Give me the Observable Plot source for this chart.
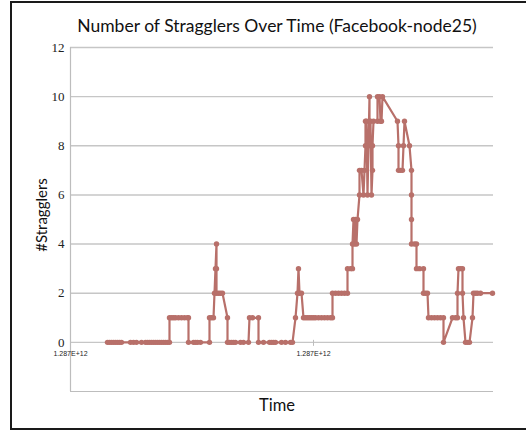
<!DOCTYPE html>
<html><head><meta charset="utf-8">
<script src="https://cdn.jsdelivr.net/npm/d3@7"></script>
<script src="https://cdn.jsdelivr.net/npm/@observablehq/plot@0.6"></script>
<style>
body{margin:0;background:#fff;}
#frame{position:relative;width:526px;height:432px;overflow:hidden;background:#fff;}
#border{position:absolute;left:10px;top:1px;width:600px;height:429px;border:2px solid #1a1a1a;border-right:none;box-sizing:border-box;}
#title{position:absolute;left:277px;top:16px;transform:translateX(-50%);white-space:nowrap;font-family:Lato,"Open Sans",sans-serif;font-size:17.5px;line-height:20px;color:#111;}
#ytitle{position:absolute;left:41px;top:215px;transform:translate(-50%,-50%) rotate(-90deg);white-space:nowrap;font-family:Lato,sans-serif;font-size:15px;color:#111;}
#xtitle{position:absolute;left:277px;top:395px;transform:translateX(-50%);white-space:nowrap;font-family:Lato,sans-serif;font-size:16.5px;line-height:20px;color:#111;}
#chart{position:absolute;left:0;top:0;}
</style>
</head><body>
<div id="frame">
  <div id="chart"></div>
  <div id="border"></div>
  <div id="title">Number of Stragglers Over Time (Facebook-node25)</div>
  <div id="ytitle">#Stragglers</div>
  <div id="xtitle">Time</div>
</div>
<script>
// time offsets (arbitrary units from the first axis tick at 1.287E+12)
const times = [
  37,39,41,43,45,47,49,51,60,63,66,71,75,77,79,81,83,85,87,89,91,93,95,97,99,
  99,101,103,105,108,111,114,117,118,
  118,123,125,127,130,139,
  139,141,143,144,145,146,146,146,148,150,152,
  157,157,159,161,163,165,170,173,178,
  179,182,188,
  188,193,199,201,203,205,211,215,220,222,
  225,227,228,229,231,
  233,235,237,239,241,243,245,248,251,254,257,260,262,
  262,265,268,271,274,277,
  277,280,282,
  282,283,284,285,286,287,
  289,289,291,293,294,295,295,296,297,298,299,299,300,301,302,302,303,
  307,307,309,310,311,312,
  327,328,328,330,332,333,334,
  339,341,341,341,341,344,346,
  346,349,353,
  353,355,357,
  358,361,364,367,370,373,
  373,
  382,385,387,387,388,390,392,392,393,
  395,397,399,
  402,403,405,407,410,422
];
const stragglers = [
  0,0,0,0,0,0,0,0,0,0,0,0,0,0,0,0,0,0,0,0,0,0,0,0,0,
  1,1,1,1,1,1,1,1,1,
  0,0,0,0,0,0,
  1,1,1,2,3,4,3,2,2,2,2,
  1,0,0,0,0,0,0,0,0,
  1,1,1,
  0,0,0,0,0,0,0,0,0,0,
  1,2,3,2,2,
  1,1,1,1,1,1,1,1,1,1,1,1,1,
  2,2,2,2,2,2,
  3,3,3,
  4,5,4,5,4,5,
  6,7,7,6,7,8,9,9,6,8,10,9,9,6,7,8,9,
  9,10,10,9,9,10,
  9,8,7,7,7,8,9,
  8,7,6,5,4,4,4,
  3,3,3,
  2,2,2,
  1,1,1,1,1,1,
  0,
  1,1,1,2,3,3,3,2,1,
  0,0,0,
  1,2,2,2,2,2
];
const yTicks = [0,2,4,6,8,10,12];
const xTicks = [0,243];
const xTickLabels = ["1.287E+12","1.287E+12"];

const data = times.map((t,i)=>({t, n: stragglers[i]}));
const color = "#b8706a";

const chart = Plot.plot({
  width: 526, height: 432,
  marginLeft: 70, marginRight: 33, marginTop: 47, marginBottom: 41,
  x: {domain: [0, 423], axis: null},
  y: {domain: [-2, 12], axis: null},
  marks: [
    Plot.ruleY(yTicks, {y: d=>d, stroke: "#c6c6c6", strokeWidth: 1.4}),
    Plot.ruleY([-2], {y: d=>d, stroke: "#bdbdbd", strokeWidth: 1.2}),
    Plot.ruleX([0], {x: d=>d, stroke: "#bdbdbd", strokeWidth: 1.2}),
    Plot.ruleX(xTicks.slice(1), {x: d=>d, y1: 0, y2: 0, insetTop: -2, insetBottom: -4, stroke: "#bdbdbd"}),
    Plot.text(yTicks, {x: 0, y: d=>d, text: d=>String(d), textAnchor: "end", dx: -6, fontFamily: "Liberation Serif, Times New Roman, serif", fontSize: 13, fill: "#222"}),
    Plot.text(xTicks, {x: d=>d, y: 0, text: (d,i)=>xTickLabels[i], dy: 11, fontFamily: "Liberation Sans, Arial, sans-serif", fontSize: 7, fill: "#222"}),
    Plot.line(data, {x: "t", y: "n", stroke: color, strokeWidth: 2.2}),
    Plot.dot(data, {x: "t", y: "n", r: 2.7, fill: color, stroke: "none"})
  ]
});
document.getElementById("chart").appendChild(chart);
</script>
</body></html>
